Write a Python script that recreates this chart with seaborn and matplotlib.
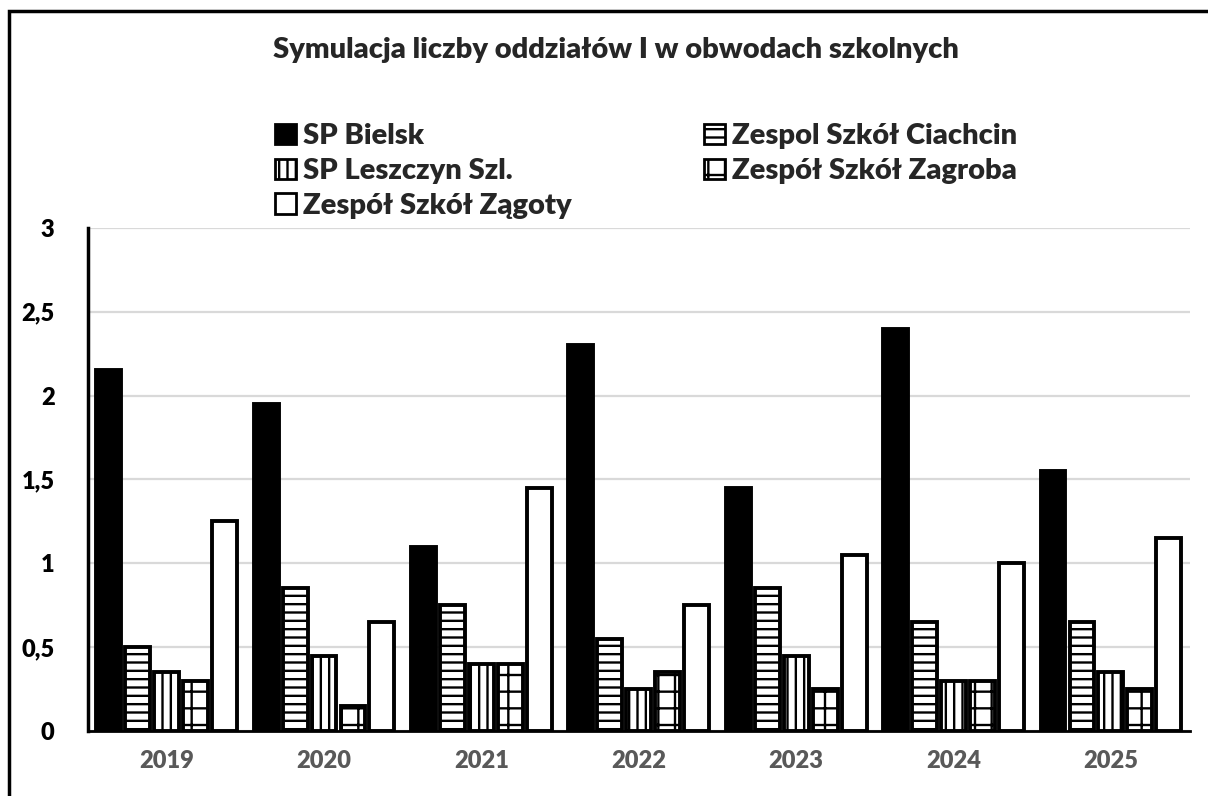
import matplotlib
matplotlib.use("Agg")
import matplotlib.pyplot as plt
from matplotlib.patches import Rectangle
import seaborn as sns
import pandas as pd

years = ["2019", "2020", "2021", "2022", "2023", "2024", "2025"]
schools = ["SP Bielsk", "Zespol Szkół Ciachcin", "SP Leszczyn Szl.",
           "Zespół Szkół Zagroba", "Zespół Szkół Zągoty"]

bielsk = [2.15, 1.95, 1.1, 2.3, 1.45, 2.4, 1.55]
ciachcin = [0.5, 0.85, 0.75, 0.55, 0.85, 0.65, 0.65]
leszczyn = [0.35, 0.45, 0.4, 0.25, 0.45, 0.3, 0.35]
zagroba = [0.3, 0.15, 0.4, 0.35, 0.25, 0.3, 0.25]
zagoty = [1.25, 0.65, 1.45, 0.75, 1.05, 1.0, 1.15]

y_ticks = [0, 0.5, 1, 1.5, 2, 2.5, 3]
y_labels = ["0", "0,5", "1", "1,5", "2", "2,5", "3"]

title = "Symulacja liczby oddziałów I w obwodach szkolnych"

# long-form table for seaborn
values = [bielsk, ciachcin, leszczyn, zagroba, zagoty]
rows = []
for school, vals in zip(schools, values):
    for year, v in zip(years, vals):
        rows.append({"Rok": year, "Szkoła": school, "Oddziały": v})
data = pd.DataFrame(rows)

sns.set_style("white")
plt.rcParams["font.family"] = ["Lato", "DejaVu Sans"]
plt.rcParams["hatch.linewidth"] = 1.7
W = "heavy"

fig = plt.figure(figsize=(12.08, 7.96), dpi=100)
ax = fig.add_axes([0.0728, 0.0817, 0.912, 0.632])

face = ["black", "white", "white", "white", "white"]
hatches = [None, "--", "||", "+", None]
palette = dict(zip(schools, face))

sns.barplot(data=data, x="Rok", y="Oddziały", hue="Szkoła", hue_order=schools,
            order=years, palette=palette, width=0.92, gap=0.14,
            edgecolor="black", linewidth=2.8, legend=False, ax=ax)

for cont, fc, h in zip(ax.containers, face, hatches):
    for bar in cont:
        bar.set_facecolor(fc)
        bar.set_edgecolor("black")
        if h:
            bar.set_hatch(h)
    cont.set_label(None)

ax.set_ylim(0, 3)
ax.set_xlim(-0.5, 6.5)
ax.set_yticks(y_ticks)
ax.set_yticklabels(y_labels, fontsize=17, fontweight=W, color="black")
ax.tick_params(axis="y", length=0, pad=24)
ax.tick_params(axis="x", length=0, pad=14, labelsize=17, labelcolor="#595959")
for lab in ax.get_xticklabels():
    lab.set_fontweight(W)
ax.set_xlabel("")
ax.set_ylabel("")
ax.yaxis.grid(True, color="#d9d9d9", linewidth=1.6)
ax.set_axisbelow(True)
for s in ["top", "right"]:
    ax.spines[s].set_visible(False)
ax.spines["left"].set_color("black")
ax.spines["left"].set_linewidth(2.5)
ax.spines["bottom"].set_color("black")
ax.spines["bottom"].set_linewidth(2)

# legend, reordered to read row by row like the original
handles = [cont.patches[0] for cont in ax.containers]
order = [0, 2, 4, 1, 3]
leg = fig.legend([handles[i] for i in order], [schools[i] for i in order],
                 ncol=2, loc="upper left", bbox_to_anchor=(0.206, 0.878),
                 frameon=False, handlelength=0.7, handleheight=0.7,
                 handletextpad=0.25, columnspacing=4.55, labelspacing=0.3,
                 prop={"size": 21, "weight": W})
for p in leg.get_patches():
    p.set_linewidth(2.0)

fig.text(0.510, 0.937, title, ha="center", va="center",
         fontsize=21, fontweight=W)

fig.add_artist(Rectangle((0.0078, -0.2), 1.2, 1.186, transform=fig.transFigure,
                         fill=False, edgecolor="black", linewidth=2.5))

fig.savefig("out.png", dpi=100)
